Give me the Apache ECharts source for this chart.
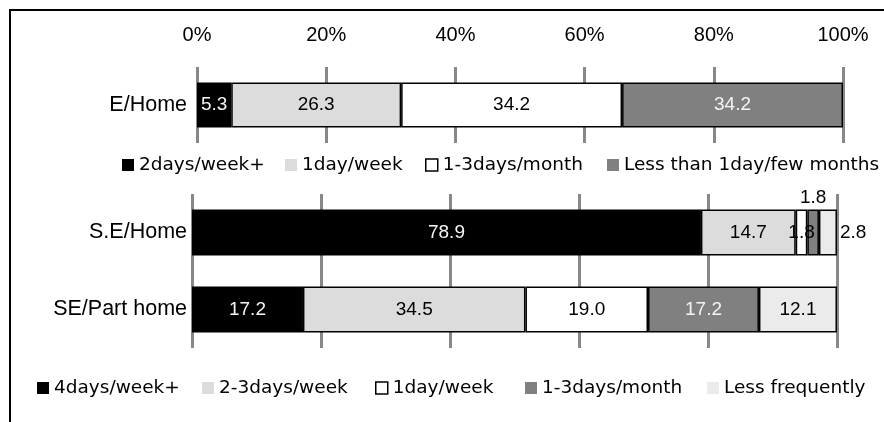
<!DOCTYPE html>
<html>
<head>
<meta charset="utf-8">
<title>Work frequency by employment type</title>
<script src="https://cdn.jsdelivr.net/npm/echarts@6/dist/echarts.min.js"></script>
<style>
  html, body { margin: 0; padding: 0; background: #fff; }
  #chart { width: 884px; height: 422px; }
</style>
</head>
<body>
<div id="chart"></div>
<script>
// ---- data ----
const axisMax = 100;
const axisStep = 20;

const topCategories = ['E/Home'];
const topSeriesNames = ['2days/week+', '1day/week', '1-3days/month', 'Less than 1day/few months'];
const topValues = [5.3, 26.3, 34.2, 34.2];

const bottomCategories = ['S.E/Home', 'SE/Part home'];
const bottomSeriesNames = ['4days/week+', '2-3days/week', '1day/week', '1-3days/month', 'Less frequently'];
const seHomeValues = [78.9, 14.7, 1.8, 1.8, 2.8];
const sePartHomeValues = [17.2, 34.5, 19.0, 17.2, 12.1];

// ---- styling ----
const topColors = ['#000000', '#dcdcdc', '#ffffff', '#808080'];
const bottomColors = ['#000000', '#dcdcdc', '#ffffff', '#808080', '#ebebeb'];
const labelFont = '"Liberation Sans", Arial, sans-serif';
const legendFont = '"DejaVu Sans", sans-serif';

function labelColorFor(fill) {
  return (fill === '#000000' || fill === '#808080') ? '#f4f4f4' : '#000000';
}

const fmt = p => Number(p.value).toFixed(1);

const series = [];

// upper panel: E/Home
topSeriesNames.forEach((name, i) => {
  series.push({
    name: name,
    type: 'bar',
    stack: 'top',
    xAxisIndex: 0,
    yAxisIndex: 0,
    barWidth: 45,
    itemStyle: { color: topColors[i], borderColor: '#000', borderWidth: 1.5 },
    label: {
      show: true, position: 'inside', formatter: fmt,
      color: labelColorFor(topColors[i]), fontSize: 19, fontFamily: labelFont
    },
    data: [topValues[i]]
  });
});

// lower panel: S.E/Home and SE/Part home
bottomSeriesNames.forEach((name, i) => {
  const base = {
    show: true, position: 'inside', formatter: fmt,
    color: labelColorFor(bottomColors[i]), fontSize: 19, fontFamily: labelFont
  };
  // thin segments on S.E/Home carry their labels outside the bar
  let firstLabel = base;
  if (i === 3) firstLabel = Object.assign({}, base, { position: 'top', distance: 2, color: '#000' });
  if (i === 4) firstLabel = Object.assign({}, base, { position: 'right', distance: 3, color: '#000' });
  series.push({
    name: name,
    type: 'bar',
    stack: 'bottom',
    xAxisIndex: 1,
    yAxisIndex: 1,
    barWidth: 46,
    itemStyle: { color: bottomColors[i], borderColor: '#000', borderWidth: 1.5 },
    label: base,
    data: [
      { value: seHomeValues[i], label: firstLabel },
      { value: sePartHomeValues[i] }
    ]
  });
});

// one legend block per entry so each sits at its own spot
const legends = [];
const topLegendLeft = [122, 285, 425, 607];
const bottomLegendLeft = [37, 202, 375, 525, 707];

function legendItem(name, fill) {
  return {
    name: name,
    itemStyle: fill === '#ffffff'
      ? { color: '#ffffff', borderColor: '#000', borderWidth: 1.5 }
      : { color: fill, borderWidth: 0 }
  };
}

function legendBlock(left, top, name, fill) {
  return {
    left: left, top: top, orient: 'horizontal', padding: 0,
    icon: 'rect', itemWidth: 12, itemHeight: 12,
    selectedMode: false,
    textStyle: { fontSize: 18.5, fontFamily: legendFont, color: '#000', lineHeight: 20 },
    data: [legendItem(name, fill)]
  };
}

topSeriesNames.forEach((name, i) => {
  legends.push(legendBlock(topLegendLeft[i], 155, name, topColors[i]));
});
bottomSeriesNames.forEach((name, i) => {
  legends.push(legendBlock(bottomLegendLeft[i], 378, name, bottomColors[i]));
});

const splitLine = { show: true, lineStyle: { color: '#888888', width: 3 } };

const option = {
  animation: false,
  backgroundColor: '#ffffff',
  graphic: [{
    type: 'rect',
    shape: { x: 10, y: 10, width: 1000, height: 600 },
    style: { fill: 'none', stroke: '#000', lineWidth: 2 },
    silent: true
  }],
  legend: legends,
  grid: [
    { left: 197, width: 646, top: 67, height: 76 },
    { left: 192, width: 645, top: 194, height: 154 }
  ],
  xAxis: [
    {
      gridIndex: 0, type: 'value', position: 'top',
      min: 0, max: axisMax, interval: axisStep,
      axisLine: { show: false }, axisTick: { show: false },
      axisLabel: { formatter: '{value}%', fontSize: 20, fontFamily: labelFont, color: '#000', margin: 22 },
      splitLine: splitLine
    },
    {
      gridIndex: 1, type: 'value',
      min: 0, max: axisMax, interval: axisStep,
      axisLine: { show: false }, axisTick: { show: false },
      axisLabel: { show: false },
      splitLine: splitLine
    }
  ],
  yAxis: [
    {
      gridIndex: 0, type: 'category', data: topCategories, inverse: true,
      axisLine: { show: false }, axisTick: { show: false },
      axisLabel: { fontSize: 21.5, fontFamily: labelFont, color: '#000', margin: 10 }
    },
    {
      gridIndex: 1, type: 'category', data: bottomCategories, inverse: true,
      axisLine: { show: false }, axisTick: { show: false },
      axisLabel: { fontSize: 21.5, fontFamily: labelFont, color: '#000', margin: 5 }
    }
  ],
  series: series
};

const chart = echarts.init(document.getElementById('chart'), null, { renderer: 'canvas' });
chart.setOption(option);
</script>
</body>
</html>
